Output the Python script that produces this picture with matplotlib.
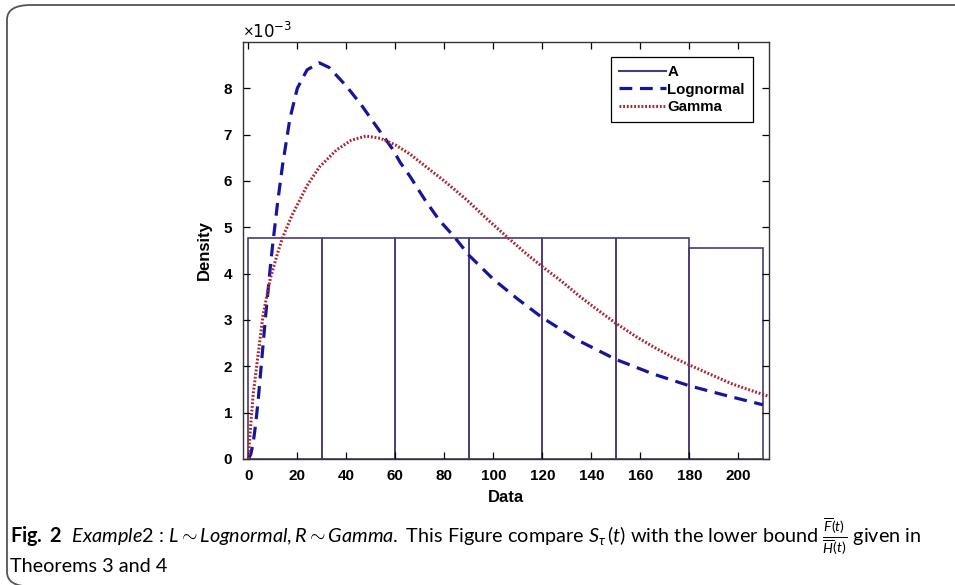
import numpy as np
import matplotlib
matplotlib.use('Agg')
import matplotlib.pyplot as plt
from matplotlib.patches import FancyBboxPatch
from matplotlib.lines import Line2D
from matplotlib.ticker import ScalarFormatter

# histogram of the data (density, x 1e-3)
bin_edges = [0, 30, 60, 90, 120, 150, 180, 210]
bin_heights = [4.78, 4.78, 4.78, 4.78, 4.78, 4.78, 4.56]

# fitted lognormal density (x 1e-3)
logn_x = [0, 1, 2, 3, 4, 5, 6, 7, 8, 9, 10, 12, 14, 17, 20, 24, 29, 33, 40, 46, 52, 59,
          62, 66, 72, 78, 84, 90, 100, 110, 120, 135, 150, 165, 180, 195, 210]
logn_y = [0, 0.1, 0.35, 0.75, 1.25, 1.85, 2.45, 3.05, 3.6, 4.15, 4.65, 5.55, 6.35, 7.35, 8.0,
          8.4, 8.55, 8.45, 8.05, 7.65, 7.2, 6.68, 6.4, 6.1, 5.6, 5.15, 4.8, 4.4, 3.88, 3.45,
          3.05, 2.55, 2.15, 1.84, 1.58, 1.37, 1.17]

# fitted gamma density (x 1e-3)
gam_x = [0, 1, 2, 4, 6, 9, 12, 14, 18, 24, 29, 36, 42, 48, 54, 60, 66, 72, 80, 89, 97,
         105, 113, 120, 128, 135, 143, 150, 158, 165, 173, 180, 188, 197, 204, 212]
gam_y = [0, 0.75, 1.4, 2.25, 3.1, 3.9, 4.45, 4.78, 5.28, 5.9, 6.3, 6.67, 6.88, 6.97, 6.92,
         6.78, 6.58, 6.33, 6.0, 5.6, 5.2, 4.82, 4.45, 4.15, 3.83, 3.52, 3.2, 2.93, 2.65,
         2.43, 2.2, 2.03, 1.84, 1.63, 1.5, 1.36]

x_ticks = list(range(0, 201, 20))
y_ticks = list(range(0, 9))
scale = 1e-3

plt.rcParams['font.family'] = ['Liberation Sans', 'DejaVu Sans']
plt.rcParams['mathtext.fontset'] = 'custom'
plt.rcParams['mathtext.rm'] = 'Lato'
plt.rcParams['mathtext.it'] = 'Lato:italic'
plt.rcParams['mathtext.bf'] = 'Lato:bold'

fig = plt.figure(figsize=(9.55, 5.85), dpi=100)

# rounded frame around figure + caption (bottom and right edges fall off the page)
frame = FancyBboxPatch((7 / 955, -1.5 / 585), 1.2, (585 - 5 + 1.5) / 585,
                       boxstyle='round,pad=0,rounding_size=0.025',
                       transform=fig.transFigure, fill=False,
                       edgecolor='#555555', linewidth=1.3, clip_on=False)
fig.patches.append(frame)

ax = fig.add_axes([0.2541, 0.2154, 0.8052 - 0.2541, 0.9282 - 0.2154])

edge_col = '#4b3a78'
logn_col = '#16169c'
gam_col = '#a82832'
ax.bar(bin_edges[:-1], np.array(bin_heights) * scale, width=30, align='edge',
       fill=False, edgecolor=edge_col, linewidth=1.2)
ax.plot(logn_x, np.array(logn_y) * scale, color=logn_col, linestyle=(0, (4, 2.4)),
        linewidth=2.3)
ax.plot(gam_x, np.array(gam_y) * scale, color=gam_col, linestyle=(0, (0.6, 0.6)),
        linewidth=2.2)

ax.set_xlim(-2.3, 212.5)
ax.set_ylim(0, 9 * scale)
ax.set_xticks(x_ticks)
ax.set_yticks(np.array(y_ticks) * scale)
fmt = ScalarFormatter(useMathText=True)
fmt.set_powerlimits((-3, -3))
ax.yaxis.set_major_formatter(fmt)
ax.yaxis.get_offset_text().set_fontsize(12)
ax.yaxis.get_offset_text().set_family(['DejaVu Sans'])

ax.tick_params(direction='in', top=True, right=True, length=5, width=0.9,
               labelsize=11, pad=7)
for lab in ax.get_xticklabels() + ax.get_yticklabels():
    lab.set_fontweight('bold')
for s in ax.spines.values():
    s.set_linewidth(1.0)
    s.set_color('#333333')

ax.set_xlabel('Data', fontsize=12, fontweight='bold', labelpad=5)
ax.set_ylabel('Density', fontsize=12, fontweight='bold', labelpad=8)

# legend with A as a line
handles = [Line2D([], [], color=edge_col, linewidth=1.5),
           Line2D([], [], color=logn_col, linestyle=(0, (4, 2.4)), linewidth=2.3),
           Line2D([], [], color=gam_col, linestyle=(0, (0.6, 0.6)), linewidth=2.2)]
leg = ax.legend(handles, ['A', 'Lognormal', 'Gamma'], loc='upper right',
                bbox_to_anchor=(0.97, 0.964), borderaxespad=0, fancybox=False,
                edgecolor='black', framealpha=1, handlelength=3.1, handletextpad=0.1,
                borderpad=0.55, labelspacing=0.22, prop={'weight': 'bold', 'size': 10.8})
leg.get_frame().set_linewidth(0.9)

# caption
cap1 = (r"$\mathbf{Fig.\ 2}$  $\mathit{Example2}$ : $\mathit{L} \sim \mathit{Lognormal}, "
        r"\mathit{R} \sim \mathit{Gamma}.$ This Figure compare $S_\tau\,(\mathit{t})$ "
        r"with the lower bound $\frac{\overline{F}(\mathit{t})}{\overline{H}(\mathit{t})}$ given in")
fig.text(10 / 955, 1 - 537 / 585, cap1, fontsize=14.3, family=['Lato', 'DejaVu Sans'],
         va='center', ha='left')
fig.text(10 / 955, 1 - 567 / 585, 'Theorems 3 and 4', fontsize=14.3,
         family=['Lato', 'DejaVu Sans'], va='center', ha='left')

fig.savefig('out.png', dpi=100)
